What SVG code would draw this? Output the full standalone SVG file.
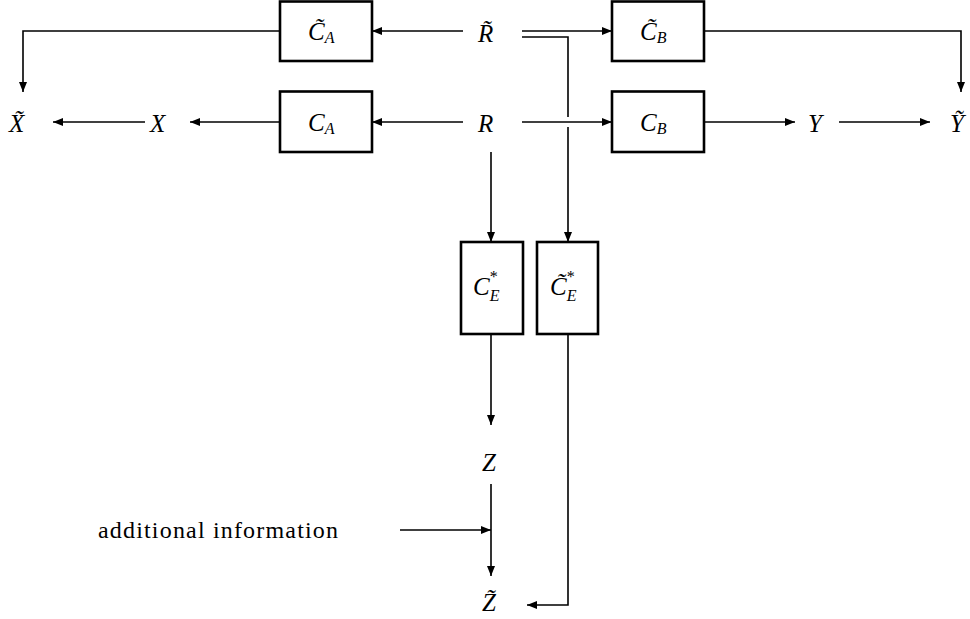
<svg xmlns="http://www.w3.org/2000/svg" width="970" height="619" viewBox="0 0 970 619">
<style>
.box{fill:#fff;stroke:#000;stroke-width:2.6}
.ln{fill:none;stroke:#000;stroke-width:1.6}
.m{font-family:"Liberation Serif","DejaVu Serif",serif;font-style:italic;font-size:25px;fill:#000}
.sub{font-size:16px}
.up{font-style:normal}
.t{font-family:"Liberation Serif","DejaVu Serif",serif;font-size:24px;fill:#000}
</style>
<defs>
<marker id="ah" viewBox="0 0 10 8" refX="10" refY="4" markerWidth="10" markerHeight="8" markerUnits="userSpaceOnUse" orient="auto">
<path d="M0,0 L10,4 L0,8 Z" fill="#000"/>
</marker>
</defs>
<rect width="970" height="619" fill="#fff"/>
<g id="connectors">
<path class="ln" marker-end="url(#ah)" d="M463,31 H372"/>
<path class="ln" marker-end="url(#ah)" d="M522,31 H612"/>
<path class="ln" marker-end="url(#ah)" d="M522,37 H568 V117 M568,127 V242"/>
<path class="ln" marker-end="url(#ah)" d="M463,122 H372"/>
<path class="ln" marker-end="url(#ah)" d="M522,122 H612"/>
<path class="ln" marker-end="url(#ah)" d="M491,152 V242"/>
<path class="ln" marker-end="url(#ah)" d="M280,31 H23 V92"/>
<path class="ln" marker-end="url(#ah)" d="M280,122 H190"/>
<path class="ln" marker-end="url(#ah)" d="M145,122 H53"/>
<path class="ln" marker-end="url(#ah)" d="M704,31 H961 V92"/>
<path class="ln" marker-end="url(#ah)" d="M704,122 H795"/>
<path class="ln" marker-end="url(#ah)" d="M839,122 H930"/>
<path class="ln" marker-end="url(#ah)" d="M491,334 V425"/>
<path class="ln" marker-end="url(#ah)" d="M491,484 V576"/>
<path class="ln" marker-end="url(#ah)" d="M400,530 H491"/>
<path class="ln" marker-end="url(#ah)" d="M568,334 V605 H527"/>
</g>
<g id="CtA">
<rect class="box" x="280" y="1.5" width="92" height="59.5"/>
<text class="m" x="308" y="40">C&#x303;<tspan class="sub" dy="3">A</tspan></text>
</g>
<g id="CA">
<rect class="box" x="280" y="91.5" width="92" height="60.5"/>
<text class="m" x="308" y="131">C<tspan class="sub" dy="3">A</tspan></text>
</g>
<g id="CtB">
<rect class="box" x="612" y="1.5" width="92" height="59.5"/>
<text class="m" x="640" y="40">C&#x303;<tspan class="sub" dy="3">B</tspan></text>
</g>
<g id="CB">
<rect class="box" x="612" y="91.5" width="92" height="60.5"/>
<text class="m" x="640" y="131">C<tspan class="sub" dy="3">B</tspan></text>
</g>
<g id="CEs">
<rect class="box" x="461" y="242" width="62" height="92"/>
<text class="m" x="473" y="295">C<tspan class="sub up" dy="-13">*</tspan><tspan class="sub" dx="-8" dy="19">E</tspan></text>
</g>
<g id="CtEs">
<rect class="box" x="537" y="242" width="61" height="92"/>
<text class="m" x="550" y="295">C&#x303;<tspan class="sub up" dy="-13">*</tspan><tspan class="sub" dx="-8" dy="19">E</tspan></text>
</g>
<g id="Rt"><text class="m" x="478" y="42">R&#x303;</text></g>
<g id="R"><text class="m" x="478" y="132">R</text></g>
<g id="Xt"><text class="m" x="9" y="132">X&#x303;</text></g>
<g id="X"><text class="m" x="150" y="132">X</text></g>
<g id="Y"><text class="m" x="808" y="132">Y</text></g>
<g id="Yt"><text class="m" x="950" y="132">Y&#x303;</text></g>
<g id="Z"><text class="m" x="482" y="471">Z</text></g>
<g id="Zt"><text class="m" x="482" y="611">Z&#x303;</text></g>
<g id="info"><text class="t" x="98" y="538" textLength="240" lengthAdjust="spacing">additional information</text></g>
</svg>
